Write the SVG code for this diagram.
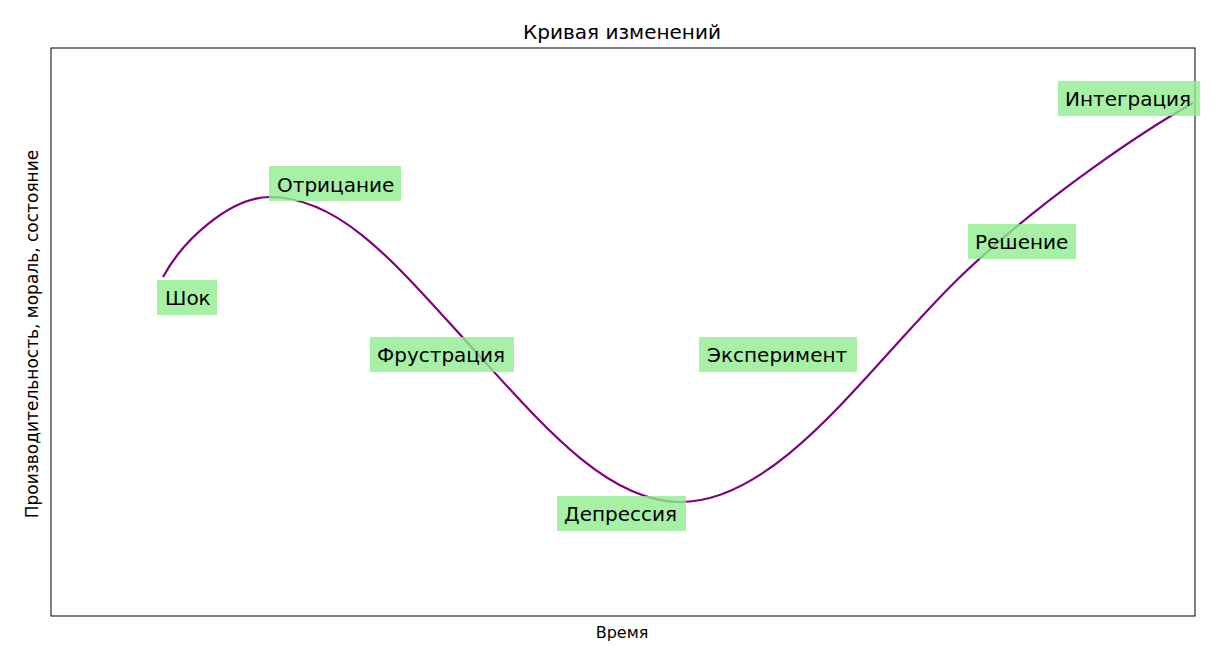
<svg xmlns="http://www.w3.org/2000/svg" width="1216" height="650" viewBox="0 0 1216 650">
<style>
.t{font-family:"DejaVu Sans",sans-serif;fill:#000}
.lbl{font-size:20px}
.box{fill:#90ee90;fill-opacity:0.8}
.curve{fill:none;stroke:#800080;stroke-width:2.2}
</style>
<rect width="1216" height="650" fill="#fff"/>
<rect x="51" y="48" width="1144" height="568" fill="none" stroke="#000" stroke-width="1"/>
<text class="t" x="622" y="39" font-size="20" text-anchor="middle">Кривая изменений</text>
<text class="t" x="622" y="638" font-size="16" text-anchor="middle">Время</text>
<text class="t" x="38" y="334" font-size="17" text-anchor="middle" transform="rotate(-90 38 334)">Производительность, мораль, состояние</text>
<g id="connectors">
<path class="curve" d="M163,277 C183,240 230,197 270,197 C340,197 395,263 465,340 C540,422 605,502 680,502 C780,502 870,364 960,277 C1040,200 1143,131 1193,103"/>
</g>
<g id="shok"><rect class="box" x="157" y="280" width="60" height="35"/><text class="t lbl" x="165" y="305">Шок</text></g>
<g id="otricanie"><rect class="box" x="269" y="166" width="132" height="35"/><text class="t lbl" x="277" y="191.5">Отрицание</text></g>
<g id="frustraciya"><rect class="box" x="370" y="337" width="144" height="35"/><text class="t lbl" x="377" y="362">Фрустрация</text></g>
<g id="depressiya"><rect class="box" x="557" y="496" width="129" height="35"/><text class="t lbl" x="564" y="521">Депрессия</text></g>
<g id="eksperiment"><rect class="box" x="699" y="337" width="158" height="35"/><text class="t lbl" x="707" y="362">Эксперимент</text></g>
<g id="reshenie"><rect class="box" x="968" y="224" width="108" height="35"/><text class="t lbl" x="975" y="249">Решение</text></g>
<g id="integraciya"><rect class="box" x="1058" y="81" width="142" height="35"/><text class="t lbl" x="1065" y="106">Интеграция</text></g>
</svg>
